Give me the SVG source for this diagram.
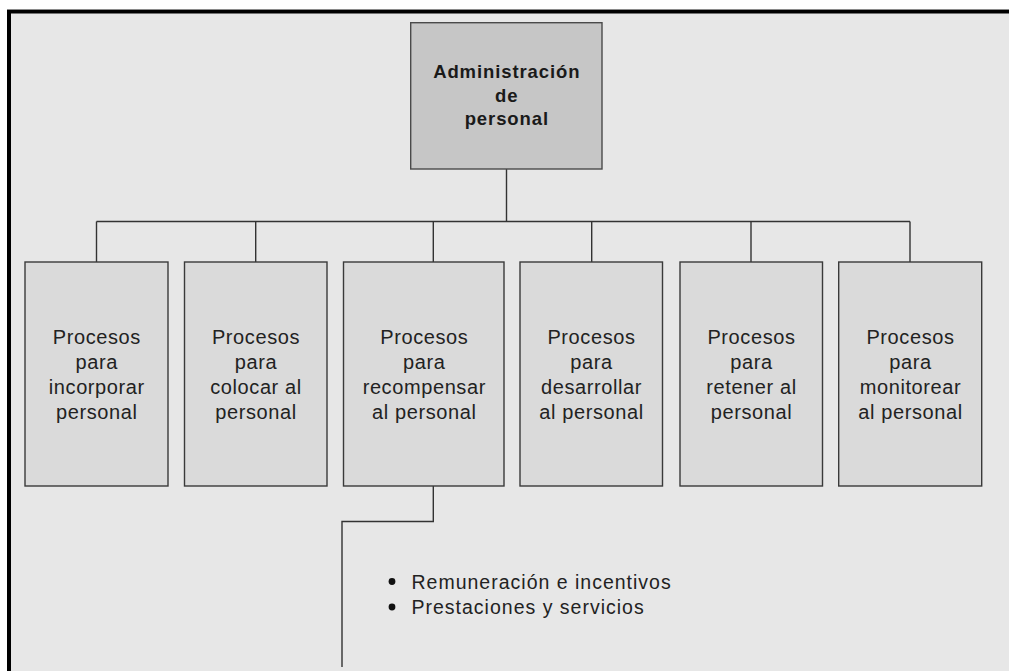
<svg xmlns="http://www.w3.org/2000/svg" width="1009" height="671" viewBox="0 0 1009 671">
  <style>
    .frame { fill: #000; }
    .root-box { fill: #c6c6c6; stroke: #4a4a4a; stroke-width: 1.4; }
    .box { fill: #dadada; stroke: #3a3a3a; stroke-width: 1.4; }
    .wire { fill: none; stroke: #333; stroke-width: 1.4; }
    .title { font-family: "Liberation Sans", Arial, sans-serif; font-weight: bold; font-size: 18.5px; letter-spacing: 0.9px; fill: #1a1a1a; text-anchor: middle; }
    .label { font-family: "Liberation Sans", Arial, sans-serif; font-size: 20px; letter-spacing: 0.6px; fill: #222; text-anchor: middle; }
    .item { font-family: "Liberation Sans", Arial, sans-serif; font-size: 19.5px; letter-spacing: 1px; fill: #222; }
  </style>

  <!-- page and frame -->
  <rect x="0" y="0" width="1009" height="671" fill="#ffffff"/>
  <rect x="11" y="13" width="998" height="658" fill="#e7e7e7"/>
  <rect x="7" y="9" width="1002" height="1" fill="#8a8a8a"/>
  <rect class="frame" x="7" y="10" width="1002" height="3.5"/>
  <rect class="frame" x="7" y="10" width="4" height="661"/>

  <!-- connectors -->
  <g id="connectors">
    <path class="wire" d="M506.5 169 V221.5"/>
    <path class="wire" d="M96.5 221.5 H910"/>
    <path class="wire" d="M96.5 221.5 V262"/>
    <path class="wire" d="M255.7 221.5 V262"/>
    <path class="wire" d="M433.3 221.5 V262"/>
    <path class="wire" d="M591.7 221.5 V262"/>
    <path class="wire" d="M751 221.5 V262"/>
    <path class="wire" d="M910 221.5 V262"/>
    <path class="wire" d="M433.3 486 V521.5 H342 V667"/>
  </g>

  <g id="node-root">
    <rect class="root-box" x="410.7" y="22.7" width="191.3" height="146.3"/>
    <text class="title" x="506.8" y="78">Administración</text>
    <text class="title" x="506.8" y="101.5">de</text>
    <text class="title" x="506.8" y="125">personal</text>
  </g>

  <g id="node-incorporar">
    <rect class="box" x="25" y="262" width="143" height="224"/>
    <text class="label" x="96.8" y="344">Procesos</text>
    <text class="label" x="96.8" y="369">para</text>
    <text class="label" x="96.8" y="394">incorporar</text>
    <text class="label" x="96.8" y="419">personal</text>
  </g>

  <g id="node-colocar">
    <rect class="box" x="184.5" y="262" width="142.5" height="224"/>
    <text class="label" x="256" y="344">Procesos</text>
    <text class="label" x="256" y="369">para</text>
    <text class="label" x="256" y="394">colocar al</text>
    <text class="label" x="256" y="419">personal</text>
  </g>

  <g id="node-recompensar">
    <rect class="box" x="343.5" y="262" width="160.5" height="224"/>
    <text class="label" x="424.3" y="344">Procesos</text>
    <text class="label" x="424.3" y="369">para</text>
    <text class="label" x="424.3" y="394">recompensar</text>
    <text class="label" x="424.3" y="419">al personal</text>
  </g>

  <g id="node-desarrollar">
    <rect class="box" x="520" y="262" width="142.5" height="224"/>
    <text class="label" x="591.5" y="344">Procesos</text>
    <text class="label" x="591.5" y="369">para</text>
    <text class="label" x="591.5" y="394">desarrollar</text>
    <text class="label" x="591.5" y="419">al personal</text>
  </g>

  <g id="node-retener">
    <rect class="box" x="680" y="262" width="142.5" height="224"/>
    <text class="label" x="751.5" y="344">Procesos</text>
    <text class="label" x="751.5" y="369">para</text>
    <text class="label" x="751.5" y="394">retener al</text>
    <text class="label" x="751.5" y="419">personal</text>
  </g>

  <g id="node-monitorear">
    <rect class="box" x="838.7" y="262" width="143" height="224"/>
    <text class="label" x="910.5" y="344">Procesos</text>
    <text class="label" x="910.5" y="369">para</text>
    <text class="label" x="910.5" y="394">monitorear</text>
    <text class="label" x="910.5" y="419">al personal</text>
  </g>

  <g id="recompensar-detail">
    <circle cx="392" cy="581.5" r="3.4" fill="#111"/>
    <text class="item" x="411.5" y="589">Remuneración e incentivos</text>
    <circle cx="392" cy="607" r="3.4" fill="#111"/>
    <text class="item" x="411.5" y="614">Prestaciones y servicios</text>
  </g>
</svg>
